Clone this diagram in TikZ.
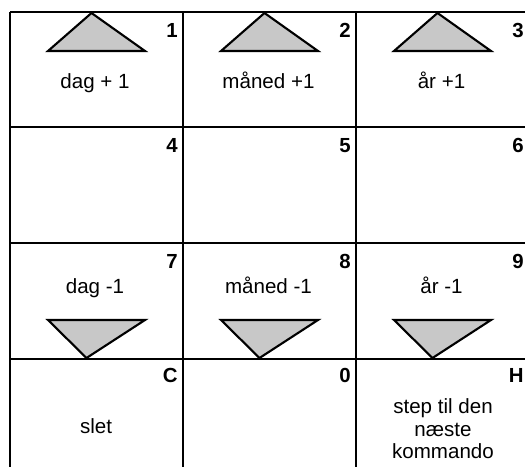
\documentclass[tikz,border=0pt]{standalone}
\usepackage{fontspec}
\setmainfont{Liberation Sans}
\definecolor{keygray}{RGB}{200,200,200}

\begin{document}
\begin{tikzpicture}[
x=0.02cm, y=-0.02cm,
grid/.style={line width=1.2pt},
keynum/.style={anchor=base east, inner sep=0pt, font=\fontsize{11.6}{13}\selectfont\bfseries},
keytext/.style={anchor=base, inner sep=0pt, font=\fontsize{11.7}{13}\selectfont},
uparrow/.style={draw, fill=keygray, line width=1.2pt, line join=miter},
downarrow/.style={draw, fill=keygray, line width=1.2pt, line join=miter}
]
\useasboundingbox (0,0) rectangle (525,467);

% grid
\foreach \gx in {10,183,356}
  \draw[grid] (\gx,12) -- (\gx,467);
\foreach \gy in {12,127,243,359}
  \draw[grid] (10,\gy) -- (525,\gy);

% keys up
\foreach \bx in {96.5,269.5,442.5}
  \draw[uparrow] (\bx-48.5,51) -- (\bx+48.5,51) -- (\bx-5,13) -- cycle;
% keys down
\foreach \bx in {96.5,269.5,442.5}
  \draw[downarrow] (\bx-48.5,320) -- (\bx+48.5,320) -- (\bx-10,358) -- cycle;

% key numbers
\node[keynum] (k1) at (178,37) {1};
\node[keynum] (k2) at (351,37) {2};
\node[keynum] (k3) at (524,37) {3};
\node[keynum] (k4) at (178,152) {4};
\node[keynum] (k5) at (351,152) {5};
\node[keynum] (k6) at (524,152) {6};
\node[keynum] (k7) at (178,268) {7};
\node[keynum] (k8) at (351,268) {8};
\node[keynum] (k9) at (524,268) {9};
\node[keynum] (kc) at (178,382) {C};
\node[keynum] (k0) at (351,382) {0};
\node[keynum] (kh) at (524,382) {H};

% key texts
\node[keytext] (dayup) at (95,88) {dag + 1};
\node[keytext] (monthup) at (268.5,88) {måned +1};
\node[keytext] (yearup) at (441.5,88) {år +1};
\node[keytext] (daydown) at (95,293) {dag -1};
\node[keytext] (monthdown) at (268.5,293) {måned -1};
\node[keytext] (yeardown) at (441.5,293) {år -1};
\node[keytext] (clear) at (96,433) {slet};
\node[inner sep=0pt, align=center, font=\fontsize{11.7}{12.8}\selectfont] (next) at (443,429) {step til den\\næste\\kommando};
\end{tikzpicture}
\end{document}
